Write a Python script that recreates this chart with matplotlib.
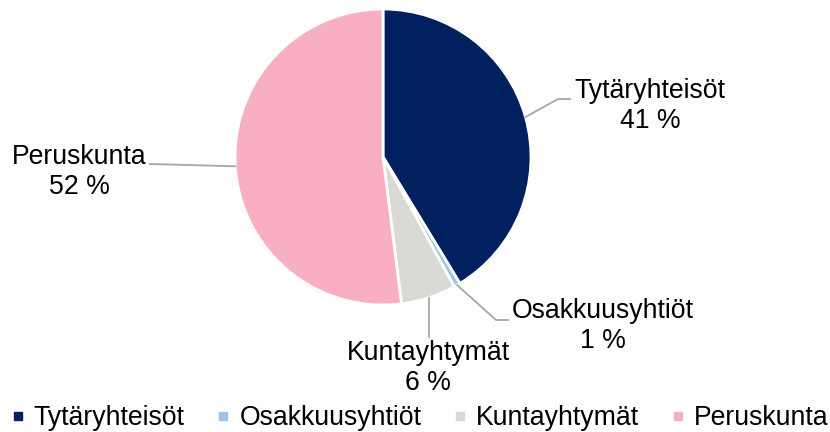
import numpy as np
import matplotlib
matplotlib.use("Agg")
import matplotlib.pyplot as plt
from matplotlib.lines import Line2D

plt.rcParams['font.family'] = ['Liberation Sans', 'DejaVu Sans']

categories = ["Tytäryhteisöt", "Osakkuusyhtiöt", "Kuntayhtymät", "Peruskunta"]
values = [41.3, 0.7, 6.0, 52.0]
pct_labels = ["41 %", "1 %", "6 %", "52 %"]
colors = ["#002060", "#9DC3E6", "#D9D9D6", "#F9AFC2"]

W, H = 830, 432
fig = plt.figure(figsize=(W / 100, H / 100), dpi=100)

cx, cy, r = 383, 157, 148
ax = fig.add_axes([(cx - r) / W, (H - cy - r) / H, 2 * r / W, 2 * r / H])
wedges, _ = ax.pie(values, colors=colors, startangle=90, counterclock=False,
                   radius=1.0, wedgeprops=dict(edgecolor="white", linewidth=2))
ax.set_xlim(-1, 1)
ax.set_ylim(-1, 1)
ax.set_aspect("equal")
ax.axis("off")

def px(x, y):
    return (x / W, 1 - y / H)

# label positions (pixel centers) and leader elbows
label_pos = [(650, 106), (603, 326), (428, 368), (79, 172)]
elbows = [[(558, 99), (570, 99)], [(496, 320), (508, 320)], [], [(150, 164)]]
line_color = "#A6A6A6"

for w, name, pct, (lx, ly), elb in zip(wedges, categories, pct_labels, label_pos, elbows):
    ang = np.deg2rad((w.theta1 + w.theta2) / 2)
    ex, ey = np.cos(ang), np.sin(ang)
    disp = ax.transData.transform((ex, ey))
    fx, fy = fig.transFigure.inverted().transform(disp)
    pts = [(fx, fy)]
    if elb:
        pts += [px(*p) for p in elb]
    else:
        pts += [(fx, 1 - 337 / H)]
    xs, ys = zip(*pts)
    fig.add_artist(Line2D(xs, ys, color=line_color, linewidth=1.3, transform=fig.transFigure))
    tx, ty = px(lx, ly)
    fig.text(tx, ty, f"{name}\n{pct}", ha="center", va="center", fontsize=19.2,
             color="black", linespacing=1.2)

handles = [Line2D([], [], marker="s", linestyle="none", markersize=6,
                  markerfacecolor=c, markeredgecolor=c) for c in colors]
fig.legend(handles, categories, loc="center", bbox_to_anchor=(419 / W, 1 - 418 / H),
           ncol=4, frameon=False, fontsize=19.2, handlelength=0.6,
           handletextpad=0.3, columnspacing=1.15, borderaxespad=0, borderpad=0)

fig.savefig("out.png", dpi=100)
